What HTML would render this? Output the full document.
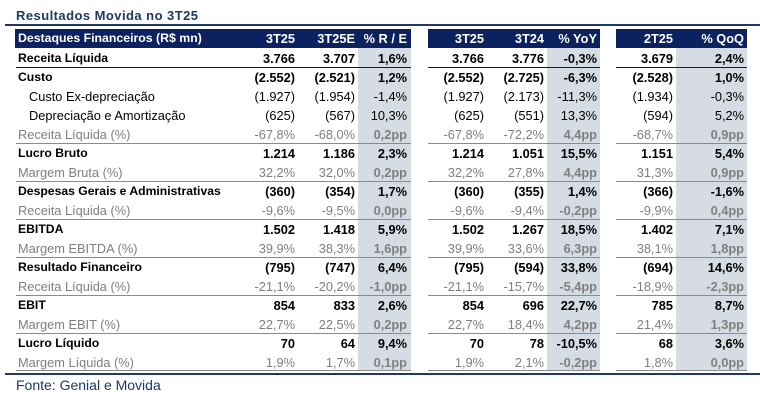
<!DOCTYPE html>
<html><head><meta charset="utf-8">
<style>
*{margin:0;padding:0;box-sizing:border-box}
body{width:760px;height:400px;background:#fff;position:relative;overflow:hidden;font-family:"Liberation Sans",Arial,sans-serif;color:#000}
.abs{position:absolute}
.title{left:16px;top:8px;font-size:13px;line-height:16px;font-weight:bold;color:#1f3864;letter-spacing:.45px;white-space:nowrap}
.fonte{left:16px;top:377px;font-size:14px;line-height:16px;color:#1f3864;white-space:nowrap}
.nl{background:#1f3864;height:2px}
.hb{background:#0b2160;top:29px;height:19px}
.gc{background:#d6dce4;top:48px;height:323px}
.ln{height:1px;background:#8a8a8a}
.dk{background:#1a1a1a}
.r{position:absolute;left:0;width:760px;height:19px;line-height:19px;font-size:12.8px;white-space:nowrap}
.r span{position:absolute}
.l{left:18px;font-size:12.2px}
.i{left:29px;font-size:12.8px}
.a{right:465px}.b{right:405px}.c{right:353px}.d{right:276px}.e{right:216px}.f{right:163px}.g{right:87px}.h{right:16px}
.B{font-weight:bold}
.G{color:#7f7f7f}
.G .l{font-size:12.8px;font-weight:normal}
.G .p{font-weight:bold}
.hd{color:#fff;font-weight:bold;top:29px;line-height:19px;height:19px;padding-top:0}
.hd .l{font-size:12.3px}
</style></head><body>
<div class="abs title">Resultados Movida no 3T25</div>
<div class="abs nl" style="left:5px;top:24px;width:755px"></div>

<div class="abs hb" style="left:15px;width:396px"></div>
<div class="abs hb" style="left:428px;width:172px"></div>
<div class="abs hb" style="left:616px;width:131px"></div>

<div class="abs gc" style="left:358px;width:53px"></div>
<div class="abs gc" style="left:547px;width:53px"></div>
<div class="abs gc" style="left:676px;width:71px"></div>

<!-- separator lines -->
<div class="abs ln dk" style="left:16px;top:67px;width:395px"></div>
<div class="abs ln dk" style="left:428px;top:67px;width:172px"></div>
<div class="abs ln dk" style="left:616px;top:67px;width:131px"></div>

<div class="abs ln" style="left:16px;top:143px;width:395px"></div>
<div class="abs ln" style="left:428px;top:143px;width:172px"></div>
<div class="abs ln" style="left:616px;top:143px;width:131px"></div>
<div class="abs ln" style="left:16px;top:181px;width:395px"></div>
<div class="abs ln" style="left:428px;top:181px;width:172px"></div>
<div class="abs ln" style="left:616px;top:181px;width:131px"></div>
<div class="abs ln" style="left:16px;top:219px;width:395px"></div>
<div class="abs ln" style="left:428px;top:219px;width:172px"></div>
<div class="abs ln" style="left:616px;top:219px;width:131px"></div>
<div class="abs ln" style="left:16px;top:257px;width:395px"></div>
<div class="abs ln" style="left:428px;top:257px;width:172px"></div>
<div class="abs ln" style="left:616px;top:257px;width:131px"></div>
<div class="abs ln" style="left:16px;top:295px;width:395px"></div>
<div class="abs ln" style="left:428px;top:295px;width:172px"></div>
<div class="abs ln" style="left:616px;top:295px;width:131px"></div>
<div class="abs ln" style="left:16px;top:333px;width:395px"></div>
<div class="abs ln" style="left:428px;top:333px;width:172px"></div>
<div class="abs ln" style="left:616px;top:333px;width:131px"></div>
<div class="abs ln" style="left:16px;top:370px;width:395px"></div>
<div class="abs ln" style="left:428px;top:370px;width:172px"></div>
<div class="abs ln" style="left:616px;top:370px;width:131px"></div>

<div class="abs nl" style="left:5px;top:373px;width:755px"></div>

<!-- header -->
<div class="r hd"><span class="l">Destaques Financeiros (R$ mn)</span><span class="a">3T25</span><span class="b">3T25E</span><span class="c">% R / E</span><span class="d">3T25</span><span class="e">3T24</span><span class="f">% YoY</span><span class="g">2T25</span><span class="h">% QoQ</span></div>

<div class="r B" style="top:49px"><span class="l">Receita Líquida</span><span class="a">3.766</span><span class="b">3.707</span><span class="c">1,6%</span><span class="d">3.766</span><span class="e">3.776</span><span class="f">-0,3%</span><span class="g">3.679</span><span class="h">2,4%</span></div>
<div class="r B" style="top:68px"><span class="l">Custo</span><span class="a">(2.552)</span><span class="b">(2.521)</span><span class="c">1,2%</span><span class="d">(2.552)</span><span class="e">(2.725)</span><span class="f">-6,3%</span><span class="g">(2.528)</span><span class="h">1,0%</span></div>
<div class="r" style="top:87px"><span class="i">Custo Ex-depreciação</span><span class="a">(1.927)</span><span class="b">(1.954)</span><span class="c">-1,4%</span><span class="d">(1.927)</span><span class="e">(2.173)</span><span class="f">-11,3%</span><span class="g">(1.934)</span><span class="h">-0,3%</span></div>
<div class="r" style="top:106px"><span class="i">Depreciação e Amortização</span><span class="a">(625)</span><span class="b">(567)</span><span class="c">10,3%</span><span class="d">(625)</span><span class="e">(551)</span><span class="f">13,3%</span><span class="g">(594)</span><span class="h">5,2%</span></div>
<div class="r G" style="top:125px"><span class="l">Receita Líquida (%)</span><span class="a">-67,8%</span><span class="b">-68,0%</span><span class="c p">0,2pp</span><span class="d">-67,8%</span><span class="e">-72,2%</span><span class="f p">4,4pp</span><span class="g">-68,7%</span><span class="h p">0,9pp</span></div>
<div class="r B" style="top:144px"><span class="l">Lucro Bruto</span><span class="a">1.214</span><span class="b">1.186</span><span class="c">2,3%</span><span class="d">1.214</span><span class="e">1.051</span><span class="f">15,5%</span><span class="g">1.151</span><span class="h">5,4%</span></div>
<div class="r G" style="top:163px"><span class="l">Margem Bruta (%)</span><span class="a">32,2%</span><span class="b">32,0%</span><span class="c p">0,2pp</span><span class="d">32,2%</span><span class="e">27,8%</span><span class="f p">4,4pp</span><span class="g">31,3%</span><span class="h p">0,9pp</span></div>
<div class="r B" style="top:182px"><span class="l">Despesas Gerais e Administrativas</span><span class="a">(360)</span><span class="b">(354)</span><span class="c">1,7%</span><span class="d">(360)</span><span class="e">(355)</span><span class="f">1,4%</span><span class="g">(366)</span><span class="h">-1,6%</span></div>
<div class="r G" style="top:201px"><span class="l">Receita Líquida (%)</span><span class="a">-9,6%</span><span class="b">-9,5%</span><span class="c p">0,0pp</span><span class="d">-9,6%</span><span class="e">-9,4%</span><span class="f p">-0,2pp</span><span class="g">-9,9%</span><span class="h p">0,4pp</span></div>
<div class="r B" style="top:220px"><span class="l">EBITDA</span><span class="a">1.502</span><span class="b">1.418</span><span class="c">5,9%</span><span class="d">1.502</span><span class="e">1.267</span><span class="f">18,5%</span><span class="g">1.402</span><span class="h">7,1%</span></div>
<div class="r G" style="top:239px"><span class="l">Margem EBITDA (%)</span><span class="a">39,9%</span><span class="b">38,3%</span><span class="c p">1,6pp</span><span class="d">39,9%</span><span class="e">33,6%</span><span class="f p">6,3pp</span><span class="g">38,1%</span><span class="h p">1,8pp</span></div>
<div class="r B" style="top:258px"><span class="l">Resultado Financeiro</span><span class="a">(795)</span><span class="b">(747)</span><span class="c">6,4%</span><span class="d">(795)</span><span class="e">(594)</span><span class="f">33,8%</span><span class="g">(694)</span><span class="h">14,6%</span></div>
<div class="r G" style="top:277px"><span class="l">Receita Líquida (%)</span><span class="a">-21,1%</span><span class="b">-20,2%</span><span class="c p">-1,0pp</span><span class="d">-21,1%</span><span class="e">-15,7%</span><span class="f p">-5,4pp</span><span class="g">-18,9%</span><span class="h p">-2,3pp</span></div>
<div class="r B" style="top:296px"><span class="l">EBIT</span><span class="a">854</span><span class="b">833</span><span class="c">2,6%</span><span class="d">854</span><span class="e">696</span><span class="f">22,7%</span><span class="g">785</span><span class="h">8,7%</span></div>
<div class="r G" style="top:315px"><span class="l">Margem EBIT (%)</span><span class="a">22,7%</span><span class="b">22,5%</span><span class="c p">0,2pp</span><span class="d">22,7%</span><span class="e">18,4%</span><span class="f p">4,2pp</span><span class="g">21,4%</span><span class="h p">1,3pp</span></div>
<div class="r B" style="top:334px"><span class="l">Lucro Líquido</span><span class="a">70</span><span class="b">64</span><span class="c">9,4%</span><span class="d">70</span><span class="e">78</span><span class="f">-10,5%</span><span class="g">68</span><span class="h">3,6%</span></div>
<div class="r G" style="top:353px"><span class="l">Margem Líquida (%)</span><span class="a">1,9%</span><span class="b">1,7%</span><span class="c p">0,1pp</span><span class="d">1,9%</span><span class="e">2,1%</span><span class="f p">-0,2pp</span><span class="g">1,8%</span><span class="h p">0,0pp</span></div>

<div class="abs fonte">Fonte: Genial e Movida</div>
</body></html>
